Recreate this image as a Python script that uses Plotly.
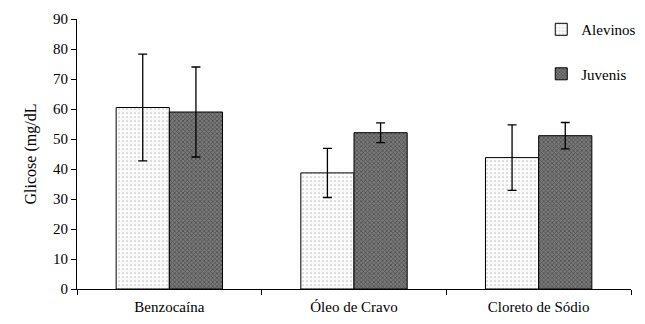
import plotly.graph_objects as go

categories = ["Benzocaína", "Óleo de Cravo", "Cloreto de Sódio"]
alevinos = [60.5, 38.7, 43.8]
alevinos_err = [17.8, 8.2, 10.9]
juvenis = [59.0, 52.1, 51.1]
juvenis_err = [15.0, 3.3, 4.4]
y_ticks = [0, 10, 20, 30, 40, 50, 60, 70, 80, 90]

font_family = "Liberation Serif, Times New Roman, serif"

fig = go.Figure()
fig.add_trace(go.Bar(
    name="Alevinos", x=categories, y=alevinos, legendgroup="a",
    marker=dict(color="white", line=dict(color="black", width=1),
                pattern=dict(shape=".", fgcolor="#8a8a8a", bgcolor="#fbfbfb", size=4, solidity=0.15)),
    error_y=dict(type="data", array=alevinos_err, visible=True, color="black", thickness=1.3, width=4.5),
))
fig.add_trace(go.Bar(
    name="Juvenis", x=categories, y=juvenis, legendgroup="j",
    marker=dict(color="#555555", line=dict(color="black", width=1),
                pattern=dict(shape="x", fgcolor="#1e1e1e", bgcolor="#7a7a7a", size=3, solidity=0.45)),
    error_y=dict(type="data", array=juvenis_err, visible=True, color="black", thickness=1.3, width=4.5),
))

fig.update_layout(
    width=637, height=316,
    margin=dict(l=69, r=14, t=11, b=35, autoexpand=False),
    plot_bgcolor="white", paper_bgcolor="white",
    barmode="group", bargap=0.424, bargroupgap=0,
    font=dict(family=font_family, size=15, color="black"),
    showlegend=True,
    legend=dict(x=0.838, y=1.022, xanchor="left", yanchor="top",
                bgcolor="rgba(0,0,0,0)", tracegroupgap=22,
                font=dict(family=font_family, size=15, color="black")),
    xaxis=dict(showline=True, linecolor="black", linewidth=1, automargin=False,
               ticks="outside", ticklen=5, tickcolor="black", tickson="boundaries",
               showgrid=False, tickfont=dict(family=font_family, size=15, color="black"),
               ticklabelstandoff=4),
    yaxis=dict(range=[0, 90], tickvals=y_ticks, showline=True, linecolor="black", linewidth=1,
               automargin=False,
               ticks="outside", ticklen=5, tickcolor="black", showgrid=False, zeroline=False,
               tickfont=dict(family=font_family, size=15, color="black"),
               title=dict(text="Glicose (mg/dL", font=dict(family=font_family, size=16, color="black"),
                          standoff=12)),
)

fig.write_html("out.html")
